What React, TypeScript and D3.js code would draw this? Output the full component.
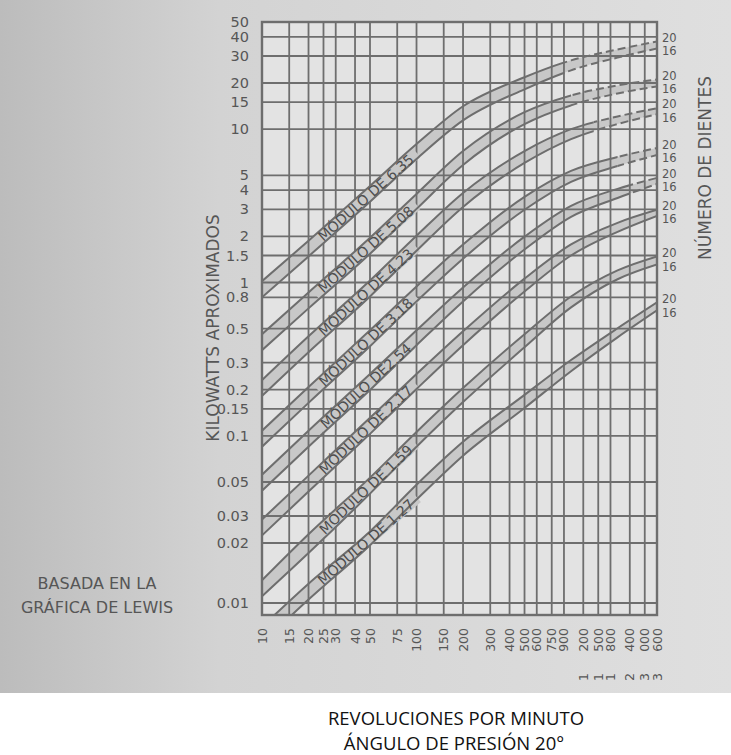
import * as d3 from 'd3';

const RPM = [10, 20, 50, 100, 200, 500, 1000, 2000, 3600];

// kW, 20 teeth (upper edge) and 16 teeth (lower edge) of each band
const m635_20 = [1.02, 1.87, 4.26, 7.99, 14.1, 21.8, 28.1, 33.1, 37.3];
const m635_16 = [0.8, 1.48, 3.36, 6.39, 11.4, 18.2, 24.2, 29.3, 33.6];
const m508_20 = [0.46, 0.86, 1.96, 3.78, 7.2, 12.9, 16.6, 19.3, 21.1];
const m508_16 = [0.362, 0.678, 1.54, 3.02, 5.84, 10.8, 14.3, 17.1, 19.0];
const m423_20 = [0.231, 0.446, 1.03, 2.02, 3.84, 7.2, 10.0, 12.1, 13.7];
const m423_16 = [0.182, 0.351, 0.811, 1.61, 3.11, 6.02, 8.61, 10.8, 12.5];
const m318_20 = [0.108, 0.208, 0.488, 0.942, 1.77, 3.62, 5.34, 6.58, 7.53];
const m318_16 = [0.0849, 0.164, 0.384, 0.753, 1.43, 2.98, 4.53, 5.75, 6.78];
const m254_20 = [0.0558, 0.108, 0.253, 0.488, 0.928, 1.99, 3.16, 4.08, 4.81];
const m254_16 = [0.0439, 0.0849, 0.199, 0.39, 0.753, 1.64, 2.68, 3.56, 4.39];
const m217_20 = [0.0285, 0.055, 0.131, 0.253, 0.481, 1.06, 1.77, 2.45, 2.98];
const m217_16 = [0.0224, 0.0433, 0.103, 0.202, 0.39, 0.874, 1.5, 2.14, 2.72];
const m159_20 = [0.013, 0.0228, 0.0534, 0.106, 0.205, 0.46, 0.811, 1.2, 1.48];
const m159_16 = [0.0108, 0.0178, 0.042, 0.0849, 0.166, 0.378, 0.688, 1.05, 1.31];
const m127_20 = [0.0076, 0.0125, 0.0238, 0.048, 0.0914, 0.185, 0.312, 0.503, 0.742];
const m127_16 = [0.0063, 0.0104, 0.0195, 0.0384, 0.0742, 0.152, 0.264, 0.439, 0.658];

const BAND_LABELS = ['MÓDULO DE 6.35', 'MÓDULO DE 5.08', 'MÓDULO DE 4.23', 'MÓDULO DE 3.18',
  'MÓDULO DE2.54', 'MÓDULO DE 2.17', 'MÓDULO DE 1.59', 'MÓDULO DE 1.27'];
// rpm from which the band edges are drawn dashed (0 = solid all the way)
const DASH_FROM = [900, 1000, 1400, 2000, 2400, 0, 0, 0];
const LABEL_RPM = 47;

const X_TICKS = [10, 15, 20, 25, 30, 40, 50, 75, 100, 150, 200, 300, 400, 500, 600, 750, 900,
  1200, 1500, 1800, 2400, 3000, 3600];
const X_LABELS = ['10', '15', '20', '25', '30', '40', '50', '75', '100', '150', '200', '300', '400',
  '500', '600', '750', '900', '1 200', '1 500', '1 800', '2 400', '3 000', '3 600'];
const Y_TICKS = [0.01, 0.02, 0.03, 0.05, 0.1, 0.15, 0.2, 0.3, 0.5, 0.8, 1, 1.5, 2, 3, 4, 5, 10, 15, 20, 30, 40, 50];
const Y_LABELS = ['0.01', '0.02', '0.03', '0.05', '0.1', '0.15', '0.2', '0.3', '0.5', '0.8', '1', '1.5',
  '2', '3', '4', '5', '10', '15', '20', '30', '40', '50'];

const UPPER = [m635_20, m508_20, m423_20, m318_20, m254_20, m217_20, m159_20, m127_20];
const LOWER = [m635_16, m508_16, m423_16, m318_16, m254_16, m217_16, m159_16, m127_16];

const INK = '#565656';
const GRID = '#6e6e6e';
const BAND = '#c8c8c8';
const FONT = '"DejaVu Sans", sans-serif';

type P = { r: number; u: number; l: number };

export default function App() {
  const W = 731, H = 755;
  const L = 262, R = 657, T = 22, B = 615;

  const x = d3.scaleLog().domain([10, 3600]).range([L, R]);
  const y = d3.scaleLog().domain([0.01, 0.02, 50]).range([603, 543, T]);

  const area = d3.area<P>().x(d => x(d.r)).y0(d => y(d.l)).y1(d => y(d.u)).curve(d3.curveMonotoneX);
  const lineU = d3.line<P>().x(d => x(d.r)).y(d => y(d.u)).curve(d3.curveMonotoneX);
  const lineL = d3.line<P>().x(d => x(d.r)).y(d => y(d.l)).curve(d3.curveMonotoneX);

  const bands = UPPER.map((up, k) => {
    const pts: P[] = RPM.map((r, i) => ({ r, u: up[i], l: LOWER[k][i] }));
    const i = d3.bisectRight(RPM, LABEL_RPM) - 1;
    const x0 = x(RPM[i]), x1 = x(RPM[i + 1]);
    const m0 = (y(pts[i].u) + y(pts[i].l)) / 2;
    const m1 = (y(pts[i + 1].u) + y(pts[i + 1].l)) / 2;
    const px = x(LABEL_RPM);
    const t = (px - x0) / (x1 - x0);
    const py = m0 + t * (m1 - m0);
    const ang = Math.atan2(m1 - m0, x1 - x0) * 180 / Math.PI;
    const last = pts[pts.length - 1];
    return { k, pts, px, py, ang, label: BAND_LABELS[k], dash: DASH_FROM[k], yEnd: (y(last.u) + y(last.l)) / 2 };
  });

  const fs = 14;

  return (
    <svg width={W} height={H} style={{ position: 'absolute', left: 0, top: 0 }} fontFamily={FONT}>
      <defs>
        <linearGradient id="scan" x1="0" x2="1" y1="0" y2="0">
          <stop offset="0" stopColor="#bcbcbc" />
          <stop offset="0.3" stopColor="#d3d3d3" />
          <stop offset="1" stopColor="#dfdfdf" />
        </linearGradient>
        <clipPath id="plot"><rect x={L} y={T} width={R - L} height={B - T} /></clipPath>
        {bands.map(b => (
          <g key={b.k}>
            <clipPath id={`solid${b.k}`}><rect x={L} y={T} width={(b.dash ? x(b.dash) : R) - L} height={B - T} /></clipPath>
            <clipPath id={`dash${b.k}`}><rect x={b.dash ? x(b.dash) : R} y={T} width={b.dash ? R - x(b.dash) : 0} height={B - T} /></clipPath>
          </g>
        ))}
      </defs>

      <rect x={0} y={0} width={W} height={H} fill="#fff" />
      <rect x={0} y={0} width={W} height={693} fill="url(#scan)" />
      <rect x={L} y={T} width={R - L} height={B - T} fill="#e3e3e3" />

      <g clipPath="url(#plot)">
        {bands.map(b => <path key={b.k} d={area(b.pts) ?? ''} fill={BAND} />)}
      </g>

      <g stroke={GRID} strokeWidth={1.8}>
        {X_TICKS.map(t => <line key={t} x1={x(t)} x2={x(t)} y1={T} y2={B} />)}
        {Y_TICKS.map(t => <line key={t} x1={L} x2={R} y1={y(t)} y2={y(t)} />)}
      </g>

      <g clipPath="url(#plot)">
        {bands.map(b => (
          <rect key={b.k} x={-b.label.length * fs * 0.33 - 3} y={-6} width={b.label.length * fs * 0.66 + 6} height={12}
            fill={BAND} transform={`translate(${b.px},${b.py}) rotate(${b.ang})`} />
        ))}
        {bands.map(b => (
          <g key={b.k} fill="none" stroke={GRID} strokeWidth={2}>
            <g clipPath={`url(#solid${b.k})`}>
              <path d={lineU(b.pts) ?? ''} />
              <path d={lineL(b.pts) ?? ''} />
            </g>
            <g clipPath={`url(#dash${b.k})`} strokeDasharray="8 4">
              <path d={lineU(b.pts) ?? ''} />
              <path d={lineL(b.pts) ?? ''} />
            </g>
          </g>
        ))}
        {bands.map(b => (
          <text key={b.k} transform={`translate(${b.px},${b.py}) rotate(${b.ang})`} textAnchor="middle"
            y={fs * 0.36} fontSize={fs} fill="#4e4e4e">{b.label}</text>
        ))}
      </g>

      <rect x={L} y={T} width={R - L} height={B - T} fill="none" stroke={GRID} strokeWidth={2.4} />

      {Y_TICKS.map((t, i) => (
        <text key={t} x={249} y={y(t) + 5} textAnchor="end" fontSize={14.5} fill={INK}>{Y_LABELS[i]}</text>
      ))}

      {X_TICKS.map((t, i) => {
        const parts = X_LABELS[i].split(' ');
        const main = parts[parts.length - 1];
        return (
          <g key={t} fontSize={12.5} fill={INK}>
            <text transform={`translate(${x(t) + 4.5},628) rotate(-90)`} textAnchor="end">{main}</text>
            {parts.length > 1 && (
              <text transform={`translate(${x(t) + 4.5},673) rotate(-90)`} textAnchor="end">{parts[0]}</text>
            )}
          </g>
        );
      })}

      {bands.map(b => (
        <g key={b.k} fontSize={11.5} fill={INK}>
          <text x={662} y={b.yEnd - 3}>20</text>
          <text x={662} y={b.yEnd + 10.5}>16</text>
        </g>
      ))}

      <text transform="translate(219,328) rotate(-90)" textAnchor="middle" fontSize={17} fill={INK}>KILOWATTS APROXIMADOS</text>
      <text transform="translate(711,168) rotate(-90)" textAnchor="middle" fontSize={17} fill={INK}>NÚMERO DE DIENTES</text>

      <text x={97} y={589} textAnchor="middle" fontSize={16} fill={INK}>BASADA EN LA</text>
      <text x={97} y={613} textAnchor="middle" fontSize={16} fill={INK}>GRÁFICA DE LEWIS</text>

      <g fontFamily='"Open Sans", sans-serif' fontSize={18.5} fill="#111" textAnchor="middle">
        <text x={456} y={725}>REVOLUCIONES POR MINUTO</text>
        <text x={454} y={750}>ÁNGULO DE PRESIÓN 20°</text>
      </g>
    </svg>
  );
}
